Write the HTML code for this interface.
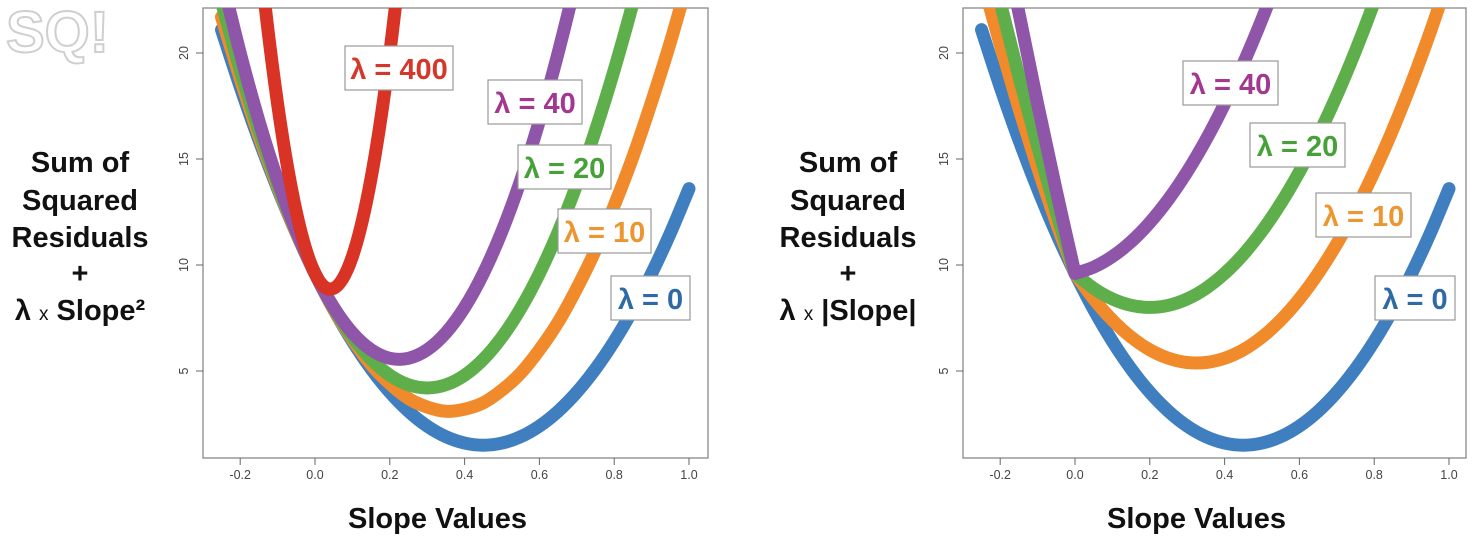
<!DOCTYPE html>
<html><head><meta charset="utf-8"><style>
html,body{margin:0;padding:0;background:#fff;width:1480px;height:538px;overflow:hidden}
svg{display:block}
.t{font-family:"Liberation Sans",sans-serif}
</style></head><body>
<svg id="c" width="1480" height="538" viewBox="0 0 1480 538">
<text class="t" x="6" y="52" font-size="58" font-weight="bold" fill="none" stroke="#cfcfcf" stroke-width="2">SQ!</text>
<g class="t" font-weight="bold" font-size="29" text-anchor="middle" fill="#111">
<text x="80" y="172">Sum of</text><text x="80" y="210">Squared</text><text x="80" y="247">Residuals</text><text x="80" y="283">+</text>
<text x="80" y="320">λ <tspan font-size="19" font-weight="normal">x</tspan> Slope²</text></g>
<g class="t" font-weight="bold" font-size="29" text-anchor="middle" fill="#111">
<text x="848" y="172">Sum of</text><text x="848" y="210">Squared</text><text x="848" y="247">Residuals</text><text x="848" y="283">+</text>
<text x="848" y="320">λ <tspan font-size="19" font-weight="normal">x</tspan> |Slope|</text></g>
</svg>
<script>
const xs=[-0.25,-0.2,-0.15,-0.1,-0.05,0,0.05,0.1,0.15,0.2,0.25,0.3,0.35,0.4,0.45,0.5,0.55,0.6,0.65,0.7,0.75,0.8,0.85,0.9,0.95,1.0];
const xTicks=[-0.2,0,0.2,0.4,0.6,0.8,1.0];
const xTickLabels=["-0.2","0.0","0.2","0.4","0.6","0.8","1.0"];
const yTicks=[5,10,15,20];
const ridge0=[21.1,18.4,15.9,13.6,11.5,9.6,7.9,6.4,5.1,4.0,3.1,2.4,1.9,1.6,1.5,1.6,1.9,2.4,3.1,4.0,5.1,6.4,7.9,9.6,11.5,13.6];
const ridge10=[21.7,18.8,16.1,13.7,11.5,9.6,7.9,6.5,5.3,4.4,3.7,3.3,3.1,3.2,3.5,4.1,4.9,6.0,7.3,8.9,10.7,12.8,15.1,17.7,20.5,23.6];
const ridge20=[22.4,19.2,16.35,13.8,11.55,9.6,7.95,6.6,5.55,4.8,4.35,4.2,4.35,4.8,5.55,6.6,7.95,9.6,11.55,13.8,16.35,19.2,22.35,25.8,29.55,33.6];
const ridge40=[23.6,20.0,16.8,14.0,11.6,9.6,8.0,6.8,6.0,5.6,5.6,6.0,6.8,8.0,9.6,11.6,14.0,16.8,20.0,23.6,27.6,32.0,36.5,41.4,46.6,52.0];
const ridge400=[46.1,34.4,24.9,17.6,12.5,9.6,8.9,10.4,14.1,20.0,28.1,38.4,50,60,60,60,60,60,60,60,60,60,60,60,60,60];
const lasso0=[21.1,18.4,15.9,13.6,11.5,9.6,7.9,6.4,5.1,4.0,3.1,2.4,1.9,1.6,1.5,1.6,1.9,2.4,3.1,4.0,5.1,6.4,7.9,9.6,11.5,13.6];
const lasso10=[23.6,20.4,17.4,14.6,12.0,9.6,8.4,7.4,6.6,6.0,5.6,5.4,5.4,5.6,6.0,6.6,7.4,8.4,9.6,11.0,12.6,14.4,16.4,18.6,21.0,23.6];
const lasso20=[26.1,22.4,18.9,15.6,12.5,9.6,8.9,8.4,8.1,8.0,8.1,8.4,8.9,9.6,10.5,11.6,12.9,14.4,16.1,18.0,20.1,22.4,24.9,27.6,30.5,33.6];
const lasso40=[31.1,26.4,21.9,17.6,13.5,9.6,9.9,10.4,11.1,12.0,13.1,14.4,15.9,17.6,19.5,21.6,23.9,26.4,29.1,32.0,35.0,38.0,41.0,44.0,47.0,50.0];

const NS="http://www.w3.org/2000/svg";
const svg=document.getElementById('c');
function mk(t,a,p){const e=document.createElementNS(NS,t);for(const k in a)e.setAttribute(k,a[k]);(p||svg).appendChild(e);return e;}
const yS=v=>477-21.2*v;
function cat(pts){let d='M'+pts[0][0]+','+pts[0][1];for(let i=0;i<pts.length-1;i++){const p0=pts[i-1]||pts[i],p1=pts[i],p2=pts[i+1],p3=pts[i+2]||p2;
d+=` C${p1[0]+(p2[0]-p0[0])/6},${p1[1]+(p2[1]-p0[1])/6} ${p2[0]-(p3[0]-p1[0])/6},${p2[1]-(p3[1]-p1[1])/6} ${p2[0]},${p2[1]}`;}return d;}
function panel(id,L,R,x0,series,kink){
  const xS=v=>x0+374*v;
  const g=mk('g',{});
  
  
  const cp=mk('clipPath',{id:id+'clip'},g);mk('rect',{x:L,y:8,width:R-L,height:450},cp);
  const fr=mk('rect',{x:L,y:8,width:R-L,height:450,fill:'none',stroke:'#888','stroke-width':1.3},g);
  
  
  xTicks.forEach((v,i)=>{const x=xS(v);mk('line',{x1:x,x2:x,y1:458,y2:465,stroke:'#666'},g);
    const t=mk('text',{x:x,y:479,'font-size':12.5,'text-anchor':'middle',fill:'#444',class:'t'},g);t.textContent=xTickLabels[i];
    
    });
  yTicks.forEach(v=>{const y=yS(v);mk('line',{x1:L-7,x2:L,y1:y,y2:y,stroke:'#666'},g);
    const t=mk('text',{x:0,y:0,'font-size':12.5,'text-anchor':'middle',fill:'#444',class:'t',transform:`translate(${L-15},${y}) rotate(-90)`},g);t.textContent=v;
    
    });
  const xt=mk('text',{x:(L+R)/2-18,y:528,'font-size':29,'font-weight':'bold','text-anchor':'middle',fill:'#111',class:'t'},g);xt.textContent='Slope Values';
  
  
  const cg=mk('g',{'clip-path':`url(#${id}clip)`},g);
  series.forEach(s=>{
    const pts=xs.map((v,i)=>[xS(v),yS(Math.min(s.vals[i],60))]);
    let d;
    if(kink){const k=xs.indexOf(0);d=cat(pts.slice(0,k+1))+' '+cat(pts.slice(k)).replace(/^M/,'L');}
    else d=cat(pts);
    const p=mk('path',{d:d,fill:'none',stroke:s.c,'stroke-width':13,'stroke-linecap':'round','stroke-linejoin':'round'},cg);
    
    
  });
  series.slice().reverse().forEach(s=>{
    const b=s.box;
    const r=mk('rect',{x:b[0],y:b[1],width:b[2],height:44,fill:'#fff',stroke:'#999','stroke-width':1.2},g);
    
    
    const t=mk('text',{x:b[0]+b[2]/2,y:b[1]+33,'font-size':29,'font-weight':'bold','text-anchor':'middle',fill:s.tc,class:'t'},g);
    t.textContent='λ = '+s.n;
    
    
  });
}
panel('ridge',203,708,315,[
 {n:'0',vals:ridge0,c:'#3f7fc0',tc:'#2e6aa8',box:[611,276,79]},
 {n:'10',vals:ridge10,c:'#f08a2a',tc:'#eb9630',box:[558,209,93]},
 {n:'20',vals:ridge20,c:'#5fae4c',tc:'#46a238',box:[518,145,93]},
 {n:'40',vals:ridge40,c:'#8f55a8',tc:'#a2388f',box:[488,80,94]},
 {n:'400',vals:ridge400,c:'#d93326',tc:'#d5382b',box:[345,46,108]}
],false);
panel('lasso',963,1466,1075,[
 {n:'0',vals:lasso0,c:'#3f7fc0',tc:'#2e6aa8',box:[1375,276,80]},
 {n:'10',vals:lasso10,c:'#f08a2a',tc:'#eb9630',box:[1316,193,95]},
 {n:'20',vals:lasso20,c:'#5fae4c',tc:'#46a238',box:[1250,123,95]},
 {n:'40',vals:lasso40,c:'#8f55a8',tc:'#a2388f',box:[1183,61,95]}
],true);
</script>
</body></html>
